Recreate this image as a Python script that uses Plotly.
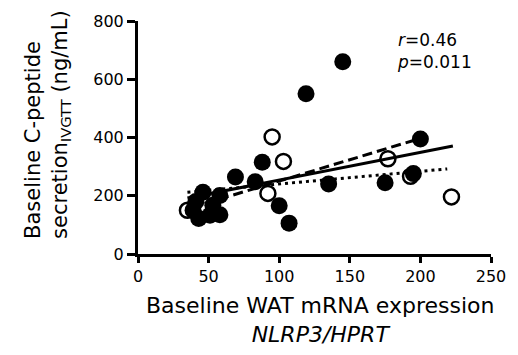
import plotly.graph_objects as go

# Filled circles
filled_x = [145, 119, 200, 135, 175, 195, 100, 107, 88, 69, 83,
            46, 39, 43, 53, 58, 51, 58, 41]
filled_y = [660, 550, 395, 240, 245, 276, 166, 106, 315, 264, 248,
            212, 150, 122, 167, 201, 133, 135, 180]

# Open circles
open_x = [35, 92, 103, 95, 177, 193, 222]
open_y = [150, 208, 318, 402, 327, 267, 196]

# Regression lines (endpoints)
fit_all_x = [35, 223]
fit_all_y = [192, 371]
fit_filled_x = [37, 200]
fit_filled_y = [158, 397]
fit_open_x = [35, 219]
fit_open_y = [212, 292]

x_ticks = [0, 50, 100, 150, 200, 250]
y_ticks = [0, 200, 400, 600, 800]

FONT = "DejaVu Sans"

fig = go.Figure()
fig.add_trace(go.Scatter(x=open_x, y=open_y, mode="markers",
                         marker=dict(symbol="circle", size=15, color="white",
                                     line=dict(color="black", width=2.5)),
                         showlegend=False, cliponaxis=False))
fig.add_trace(go.Scatter(x=fit_open_x, y=fit_open_y, mode="lines",
                         line=dict(color="black", width=3, dash="3px,4px"),
                         showlegend=False))
fig.add_trace(go.Scatter(x=fit_filled_x, y=fit_filled_y, mode="lines",
                         line=dict(color="black", width=3, dash="10px,5px"),
                         showlegend=False))
fig.add_trace(go.Scatter(x=fit_all_x, y=fit_all_y, mode="lines",
                         line=dict(color="black", width=3),
                         showlegend=False))
fig.add_trace(go.Scatter(x=filled_x, y=filled_y, mode="markers",
                         marker=dict(symbol="circle", size=17, color="black",
                                     line=dict(width=0)),
                         showlegend=False, cliponaxis=False))

axis_common = dict(showline=True, linecolor="black", linewidth=3,
                   ticks="outside", tickwidth=3, tickcolor="black",
                   showgrid=False, zeroline=False,
                   tickfont=dict(family=FONT, size=16, color="black"))

fig.update_xaxes(range=[0, 250], tickvals=x_ticks, ticklen=6, **axis_common)
fig.update_yaxes(range=[0, 800], tickvals=y_ticks, ticklen=8, **axis_common)

annotations = [
    dict(text="<i>r</i>=0.46<br><i>p</i>=0.011", xref="paper", yref="paper",
         x=0.727, y=0.968, xanchor="left", yanchor="top", align="left",
         showarrow=False, font=dict(family=FONT, size=17, color="black")),
    dict(text="Baseline WAT mRNA expression<br><i>NLRP3/HPRT</i>",
         xref="paper", yref="paper", x=0.515, y=-0.16,
         xanchor="center", yanchor="top", align="center", showarrow=False,
         font=dict(family=FONT, size=22, color="black")),
    dict(text="Baseline C-peptide<br>secretion<sub>IVGTT</sub> (ng/mL)",
         xref="paper", yref="paper", x=-0.175, y=0.055, textangle=-90,
         xanchor="right", yanchor="bottom", align="left", showarrow=False,
         font=dict(family=FONT, size=21, color="black")),
]

fig.update_layout(width=518, height=355, autosize=False,
                  margin=dict(l=138, r=26, t=18, b=101),
                  plot_bgcolor="white", paper_bgcolor="white",
                  annotations=annotations,
                  font=dict(family=FONT, color="black"))

fig.write_html("out.html")
